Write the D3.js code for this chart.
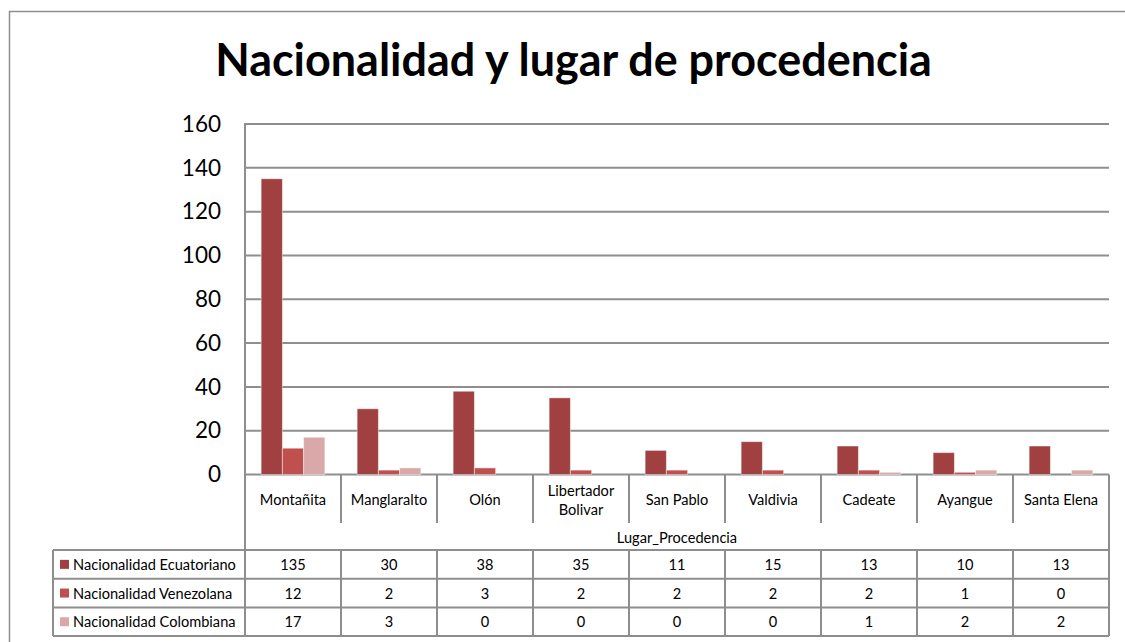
<!DOCTYPE html>
<html>
<head>
<meta charset="utf-8">
<script src="https://cdn.jsdelivr.net/npm/d3@7"></script>
<style>
  html, body { margin: 0; padding: 0; background: #fff; }
  svg { display: block; font-family: Lato, "Open Sans", sans-serif; }
</style>
</head>
<body>
<svg id="chart" width="1125" height="642"></svg>
<script>
const chartTitle = "Nacionalidad y lugar de procedencia";
const axisTitle = "Lugar_Procedencia";
const categories = ["Montañita", "Manglaralto", "Olón", "Libertador Bolivar", "San Pablo", "Valdivia", "Cadeate", "Ayangue", "Santa Elena"];
const seriesNames = ["Nacionalidad Ecuatoriano", "Nacionalidad Venezolana", "Nacionalidad Colombiana"];
const ecuatoriano = [135, 30, 38, 35, 11, 15, 13, 10, 13];
const venezolana = [12, 2, 3, 2, 2, 2, 2, 1, 0];
const colombiana = [17, 3, 0, 0, 0, 0, 1, 2, 2];
const yTicks = [0, 20, 40, 60, 80, 100, 120, 140, 160];
const seriesColors = ["#A04040", "#C0504D", "#DAA8A8"];

const seriesValues = [ecuatoriano, venezolana, colombiana];
const series = seriesNames.map((name, i) => ({ name, values: seriesValues[i], color: seriesColors[i] }));

const svg = d3.select("#chart");
const gridColor = "#8e8e8e";
const smallFont = 14.6;

// layout
const plotLeft = 245, plotRight = 1109, plotTop = 124, plotBottom = 474.5;
const catRowBottom = 523, axisTitleBottom = 550, rowH = 28.7, tableLeft = 53;

// outer frame
svg.append("path")
  .attr("d", `M9.5,642 L9.5,11.5 L1125,11.5`)
  .attr("fill", "none").attr("stroke", gridColor).attr("stroke-width", 1.5);

// title
const title = svg.append("text")
  .attr("x", 573.5).attr("y", 76)
  .attr("text-anchor", "middle")
  .attr("font-weight", "bold")
  .attr("font-size", 40)
  .attr("fill", "#000")
  .text(chartTitle);
const tw = title.node().getComputedTextLength();
title.attr("font-size", 40 * 717 / tw);

// scales
const y = d3.scaleLinear().domain([0, 160]).range([plotBottom, plotTop]);
const x = d3.scaleBand().domain(categories).range([plotLeft, plotRight]).padding(0);
const xs = d3.scaleBand().domain(seriesNames).range([0, x.bandwidth()]).paddingInner(0).paddingOuter(0.76);

// gridlines
svg.append("g")
  .selectAll("line").data(yTicks).join("line")
  .attr("x1", plotLeft).attr("x2", plotRight)
  .attr("y1", d => y(d)).attr("y2", d => y(d))
  .attr("stroke", gridColor).attr("stroke-width", 2);

// y axis labels
const yAxis = d3.axisLeft(y).tickValues(yTicks).tickSize(0).tickPadding(24);
const yg = svg.append("g").attr("transform", `translate(${plotLeft},0)`).call(yAxis);
yg.select(".domain").remove();
yg.selectAll("text").attr("font-size", 22.5).attr("font-family", "Lato, sans-serif").attr("fill", "#000");

// bars
const groups = svg.append("g").selectAll("g").data(series).join("g");
groups.selectAll("rect")
  .data(s => categories.map((c, i) => ({ c, v: s.values[i], color: s.color, name: s.name })))
  .join("rect")
  .attr("x", d => x(d.c) + xs(d.name))
  .attr("width", xs.bandwidth())
  .attr("y", d => y(d.v))
  .attr("height", d => y(0) - y(d.v))
  .attr("fill", d => d.color)
  .attr("stroke", "rgba(255,255,255,0.45)")
  .attr("stroke-width", 1);

// left axis line
svg.append("line")
  .attr("x1", plotLeft).attr("x2", plotLeft)
  .attr("y1", plotTop - 1).attr("y2", axisTitleBottom)
  .attr("stroke", gridColor).attr("stroke-width", 2);

// category separators
const bounds = categories.map(c => x(c)).concat([plotRight]);
svg.append("g").selectAll("line").data(bounds.slice(1)).join("line")
  .attr("x1", d => d).attr("x2", d => d)
  .attr("y1", plotBottom).attr("y2", (d, i) => i === bounds.length - 2 ? axisTitleBottom : catRowBottom)
  .attr("stroke", gridColor).attr("stroke-width", 2);

// category labels
const catG = svg.append("g");
categories.forEach(c => {
  const cx = x(c) + x.bandwidth() / 2;
  const t = catG.append("text")
    .attr("x", cx).attr("y", 499)
    .attr("text-anchor", "middle").attr("dominant-baseline", "central")
    .attr("font-size", smallFont).attr("fill", "#000").text(c);
  if (t.node().getComputedTextLength() > x.bandwidth() - 8) {
    const words = c.split(" ");
    t.text(null);
    words.forEach((w, k) => {
      t.append("tspan").attr("x", cx).attr("y", 499 + (k - (words.length - 1) / 2) * 19).text(w);
    });
  }
});

// axis title
svg.append("text")
  .attr("x", (plotLeft + plotRight) / 2).attr("y", 537)
  .attr("text-anchor", "middle").attr("dominant-baseline", "central")
  .attr("font-size", smallFont).attr("fill", "#000").text(axisTitle);

// data table
const tableTop = axisTitleBottom;
const tbl = svg.append("g");
const rowYs = d3.range(series.length + 1).map(i => tableTop + i * rowH);
tbl.selectAll("line.h").data(rowYs).join("line")
  .attr("class", "h")
  .attr("x1", tableLeft).attr("x2", plotRight)
  .attr("y1", d => d).attr("y2", d => d)
  .attr("stroke", gridColor).attr("stroke-width", 2);
const colXs = [tableLeft].concat(bounds);
tbl.selectAll("line.v").data(colXs).join("line")
  .attr("class", "v")
  .attr("x1", d => d).attr("x2", d => d)
  .attr("y1", tableTop).attr("y2", tableTop + series.length * rowH)
  .attr("stroke", gridColor).attr("stroke-width", 2);

series.forEach((s, r) => {
  const cy = tableTop + r * rowH + rowH / 2;
  tbl.append("rect")
    .attr("x", 60).attr("y", cy - 4.5).attr("width", 9).attr("height", 9)
    .attr("fill", s.color);
  tbl.append("text")
    .attr("x", 73).attr("y", cy)
    .attr("dominant-baseline", "central")
    .attr("font-size", smallFont).attr("fill", "#000").text(s.name);
  categories.forEach((c, i) => {
    tbl.append("text")
      .attr("x", x(c) + x.bandwidth() / 2).attr("y", cy)
      .attr("text-anchor", "middle").attr("dominant-baseline", "central")
      .attr("font-size", smallFont).attr("fill", "#000").text(s.values[i]);
  });
});
</script>
</body>
</html>
